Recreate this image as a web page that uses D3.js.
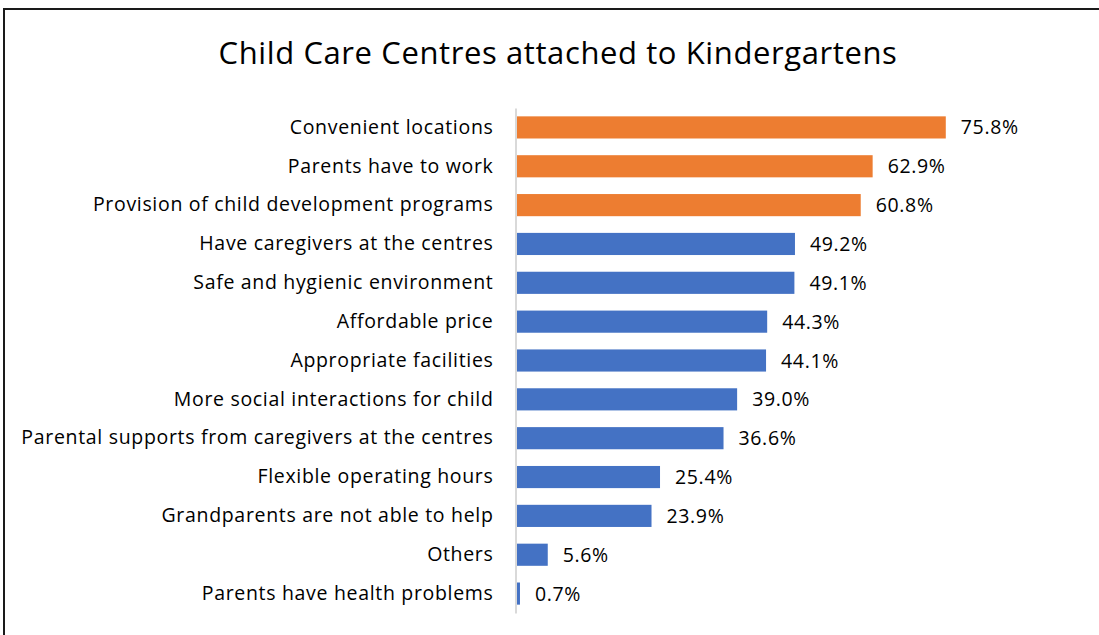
<!DOCTYPE html>
<html>
<head>
<meta charset="utf-8">
<script src="https://cdn.jsdelivr.net/npm/d3@7"></script>
<style>
  html, body { margin: 0; padding: 0; background: #fff; }
  svg { display: block; }
  text { font-family: "Open Sans", sans-serif; fill: #000; }
</style>
</head>
<body>
<svg id="chart" width="1099" height="635"></svg>
<script>
// Reasons for choosing child care centres attached to kindergartens (% of respondents)
const categories = [
  "Convenient locations",
  "Parents have to work",
  "Provision of child development programs",
  "Have caregivers at the centres",
  "Safe and hygienic environment",
  "Affordable price",
  "Appropriate facilities",
  "More social interactions for child",
  "Parental supports from caregivers at the centres",
  "Flexible operating hours",
  "Grandparents are not able to help",
  "Others",
  "Parents have health problems"
];
const values = [75.8, 62.9, 60.8, 49.2, 49.1, 44.3, 44.1, 39.0, 36.6, 25.4, 23.9, 5.6, 0.7];
const highlighted = [true, true, true, false, false, false, false, false, false, false, false, false, false];
const title = "Child Care Centres attached to Kindergartens";

const svg = d3.select("#chart");
const W = 1099, H = 635;

// outer frame
svg.append("rect")
  .attr("x", 4).attr("y", 9)
  .attr("width", W + 10).attr("height", H + 10)
  .attr("fill", "none").attr("stroke", "#1a1a1a").attr("stroke-width", 2);

// title
svg.append("text")
  .attr("x", 558).attr("y", 64)
  .attr("text-anchor", "middle")
  .style("font-size", "31px")
  .style("letter-spacing", "0.6px")
  .text(title);

const plotLeft = 516, plotTop = 108, plotBottom = 613;
const x = d3.scaleLinear().domain([0, 100]).range([plotLeft, plotLeft + 567]);
const y = d3.scaleBand().domain(categories).range([plotTop, plotBottom]).paddingInner(0.43).paddingOuter(0.215);

const data = categories.map((c, i) => ({ c, v: values[i], hi: highlighted[i] }));

// bars
svg.append("g").selectAll("rect").data(data).join("rect")
  .attr("x", x(0))
  .attr("y", d => y(d.c))
  .attr("width", d => x(d.v) - x(0))
  .attr("height", y.bandwidth())
  .attr("fill", d => d.hi ? "#ED7D31" : "#4472C4");

// category axis
const axis = svg.append("g")
  .attr("transform", `translate(${plotLeft - 0.5},0)`)
  .call(d3.axisLeft(y).tickSize(0).tickPadding(22));
axis.select(".domain").attr("stroke", "#D9D9D9").attr("stroke-width", 2);
axis.selectAll("text")
  .style("font-size", "19.5px")
  .style("letter-spacing", "0.68px")
  .style("font-family", "'Open Sans', sans-serif")
  .attr("fill", "#000");

// value labels
svg.append("g").selectAll("text").data(data).join("text")
  .attr("x", d => x(d.v) + 15)
  .attr("y", d => y(d.c) + y.bandwidth() / 2)
  .attr("dy", "0.36em")
  .style("font-size", "19.5px")
  .style("letter-spacing", "0.65px")
  .text(d => d.v.toFixed(1) + "%");
</script>
</body>
</html>
